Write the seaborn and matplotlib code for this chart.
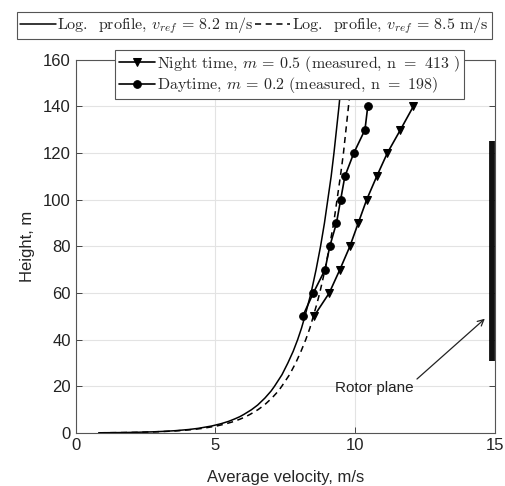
import matplotlib
matplotlib.use("Agg")
import matplotlib.pyplot as plt
import seaborn as sns
import pandas as pd

# ---- data ----
profile_height = [0.1, 0.2, 0.3, 0.5, 0.7, 1, 1.5, 2, 3, 4, 5, 6, 7, 8, 10, 12, 15, 18, 20, 25,
                  30, 35, 40, 45, 50, 55, 60, 70, 80, 90, 100, 110, 120, 130, 140, 150, 160]
profile_v82 = [0.82, 1.65, 2.13, 2.73, 3.13, 3.56, 4.04, 4.38, 4.86, 5.20, 5.47, 5.68, 5.87,
               6.02, 6.29, 6.51, 6.77, 6.99, 7.11, 7.38, 7.59, 7.78, 7.94, 8.08, 8.20, 8.31,
               8.42, 8.60, 8.76, 8.90, 9.02, 9.14, 9.24, 9.33, 9.42, 9.50, 9.58]
profile_v85 = [0.85, 1.71, 2.21, 2.83, 3.24, 3.69, 4.19, 4.54, 5.04, 5.39, 5.67, 5.89, 6.08,
               6.24, 6.52, 6.75, 7.02, 7.25, 7.37, 7.65, 7.87, 8.06, 8.23, 8.38, 8.50, 8.62,
               8.73, 8.92, 9.08, 9.23, 9.35, 9.47, 9.58, 9.67, 9.76, 9.85, 9.93]

meas_height = [50, 60, 70, 80, 90, 100, 110, 120, 130, 140]
night_v = [8.52, 9.07, 9.45, 9.81, 10.11, 10.41, 10.77, 11.15, 11.62, 12.08]
day_v = [8.12, 8.50, 8.92, 9.09, 9.33, 9.48, 9.63, 9.95, 10.35, 10.45]

rotor_x = 14.9
rotor_range = [31, 125]

x_ticks = [0, 5, 10, 15]
y_ticks = [0, 20, 40, 60, 80, 100, 120, 140, 160]

labels_top = [r"Log.  profile, $v_{ref}\,=\,$8.2 m/s", r"Log.  profile, $v_{ref}\,=\,$8.5 m/s"]
labels_meas = [r"Night time, $m\,=\,$0.5 (measured, n $=$ 413 )",
               r"Daytime, $m\,=\,$0.2 (measured, n $=$ 198)"]

# ---- style ----
sns.set_theme(style="whitegrid")
plt.rcParams["font.family"] = ["Liberation Sans", "DejaVu Sans"]
plt.rcParams["mathtext.fontset"] = "cm"

fig = plt.figure(figsize=(5.05, 4.86), dpi=100)
ax = fig.add_axes([0.150, 0.109, 0.830, 0.768])

df_prof = pd.DataFrame({"h": profile_height, "v82": profile_v82, "v85": profile_v85})
df_meas = pd.DataFrame({"h": meas_height, "night": night_v, "day": day_v})

sns.lineplot(data=df_prof, x="v82", y="h", sort=False, estimator=None, ax=ax,
             color="black", lw=1.1, label=labels_top[0])
sns.lineplot(data=df_prof, x="v85", y="h", sort=False, estimator=None, ax=ax,
             color="black", lw=1.1, linestyle=(0, (4, 3)), label=labels_top[1])
sns.lineplot(data=df_meas, x="night", y="h", sort=False, estimator=None, ax=ax,
             color="black", lw=1.2, marker="v", markersize=6, markeredgecolor="black",
             label=labels_meas[0])
sns.lineplot(data=df_meas, x="day", y="h", sort=False, estimator=None, ax=ax,
             color="black", lw=1.2, marker="o", markersize=5.5, markeredgecolor="black",
             label=labels_meas[1])

ax.plot([rotor_x, rotor_x], rotor_range, color="#111111", lw=4.2, solid_capstyle="butt")
ax.annotate("Rotor plane", xy=(14.64, 49), xytext=(9.28, 19.5), fontsize=11,
            va="center", ha="left", color="#222222",
            arrowprops=dict(arrowstyle="->", color="#222222", lw=0.9, shrinkA=0, shrinkB=0,
                            relpos=(1.0, 0.9)))

ax.set_xlim(0, 15)
ax.set_ylim(0, 160)
ax.set_xticks(x_ticks)
ax.set_yticks(y_ticks)
ax.set_xlabel("Average velocity, m/s", fontsize=12, labelpad=12)
ax.set_ylabel("Height, m", fontsize=12, labelpad=6)
ax.tick_params(axis="both", labelsize=12, direction="in", length=4, width=0.7,
               color="#444444", labelcolor="#222222", top=True, right=True,
               bottom=True, left=True)
ax.grid(True, color="#e3e3e3", lw=0.8)
for s in ax.spines.values():
    s.set_edgecolor("#555555")
    s.set_linewidth(0.8)

handles, labs = ax.get_legend_handles_labels()
leg_font = {"family": "cmr10", "size": 11.5}
leg2 = ax.legend(handles[2:4], labs[2:4], loc="upper left", bbox_to_anchor=(0.093, 1.027),
                 prop=leg_font, frameon=True, fancybox=False, edgecolor="#555555",
                 framealpha=1, handlelength=2.3, handletextpad=0.1, borderpad=0.25,
                 labelspacing=0.1, borderaxespad=0)
leg2.get_frame().set_linewidth(0.8)
leg1 = fig.legend(handles[0:2], labs[0:2], loc="upper center", bbox_to_anchor=(0.504, 0.975),
                  ncol=2, prop=leg_font, frameon=True, fancybox=False, edgecolor="#555555",
                  framealpha=1, handlelength=2.2, handletextpad=0.1, columnspacing=0.1,
                  borderpad=0.2, borderaxespad=0)
leg1.get_frame().set_linewidth(0.8)

fig.savefig("out.png", dpi=100)
